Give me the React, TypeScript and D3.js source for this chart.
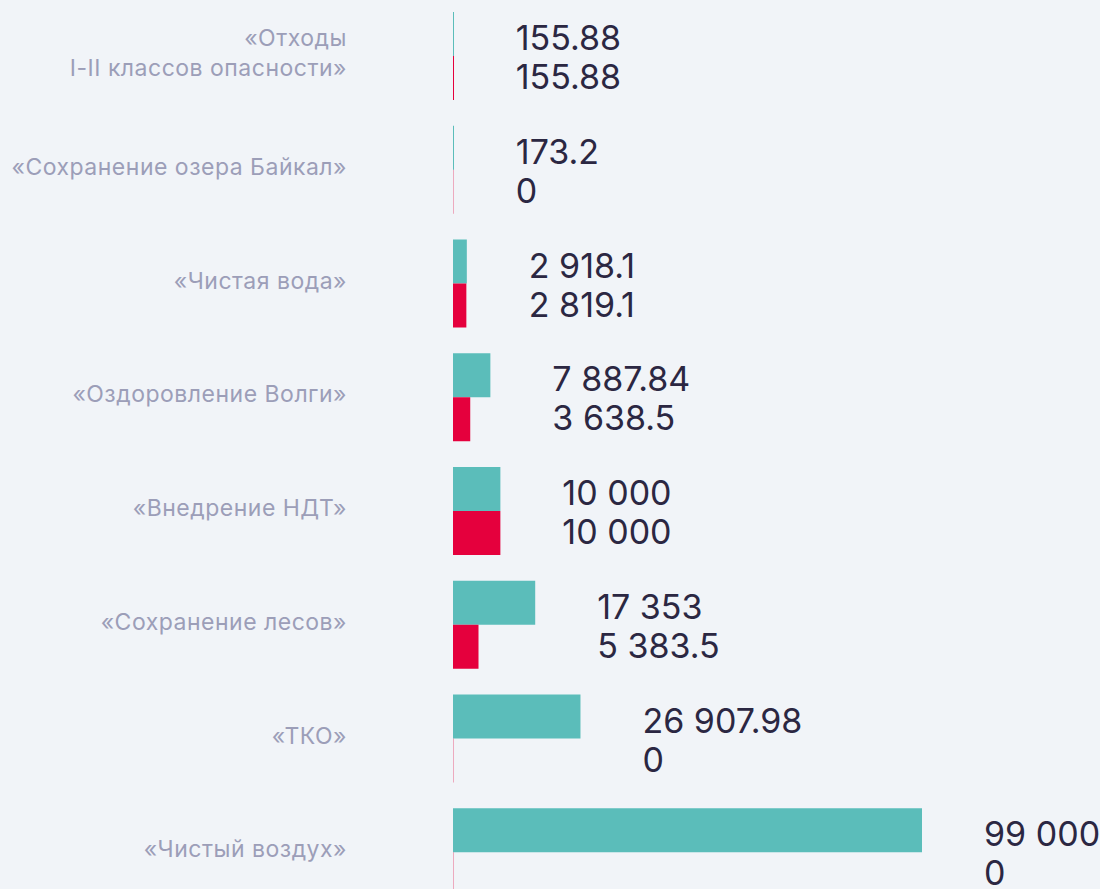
import React, { useEffect, useRef } from 'react';
import * as d3 from 'd3';

const categories: string[] = [
    '«Отходы\nI-II классов опасности»',
    '«Сохранение озера Байкал»',
    '«Чистая вода»',
    '«Оздоровление Волги»',
    '«Внедрение НДТ»',
    '«Сохранение лесов»',
    '«ТКО»',
    '«Чистый воздух»',
];

// teal bars (upper), red bars (lower)
const plannedValues: number[] = [155.88, 173.2, 2918.1, 7887.84, 10000, 17353, 26907.98, 99000];
const actualValues: number[] = [155.88, 0, 2819.1, 3638.5, 10000, 5383.5, 0, 0];

const plannedLabels: string[] = ['155.88', '173.2', '2 918.1', '7 887.84', '10 000', '17 353', '26 907.98', '99 000'];
const actualLabels: string[] = ['155.88', '0', '2 819.1', '3 638.5', '10 000', '5 383.5', '0', '0'];

const WIDTH = 1100;
const HEIGHT = 889;
const BG = '#f1f4f8';
const TEAL = '#5bbdba';
const RED = '#e5003d';
const TEXT_DARK = '#2b2742';
const TEXT_GRAY = '#9c9eb8';

const App: React.FC = () => {
    const svgRef = useRef<SVGSVGElement>(null);

    useEffect(() => {
        if (!svgRef.current) return;
        document.body.style.margin = '0';
        document.body.style.background = BG;

        const svg = d3.select(svgRef.current);
        svg.selectAll('*').remove();

        svg.append('rect')
            .attr('width', WIDTH)
            .attr('height', HEIGHT)
            .attr('fill', BG);

        const x0 = 453;
        const xScale = d3.scaleLinear()
            .domain([0, 99000])
            .range([x0, 922]);

        const step = 113.75;
        const gap = 25.75;
        const yScale = d3.scaleBand<number>()
            .domain(d3.range(categories.length))
            .range([12, 12 + step * categories.length - gap])
            .paddingInner(gap / step)
            .paddingOuter(0);

        const barH = yScale.bandwidth() / 2;

        const groups = svg.selectAll('g.cat')
            .data(categories)
            .join('g')
            .attr('class', 'cat')
            .attr('transform', (_d, i) => `translate(0, ${yScale(i)})`);

        // bars
        const drawBar = (vals: number[], color: string, offset: number) => {
            groups.append('rect')
                .attr('x', x0)
                .attr('y', offset)
                .attr('width', (_d, i) => Math.max(xScale(vals[i]) - x0, 1))
                .attr('height', barH)
                .attr('fill', color)
                .attr('fill-opacity', (_d, i) => (vals[i] === 0 ? 0.3 : 1));
        };
        drawBar(plannedValues, TEAL, 0);
        drawBar(actualValues, RED, barH);

        // category labels
        groups.append('text')
            .attr('text-anchor', 'end')
            .attr('font-family', 'Inter, "Noto Sans", sans-serif')
            .attr('font-size', 23)
            .attr('letter-spacing', 0.5)
            .attr('fill', TEXT_GRAY)
            .each(function (d) {
                const lines = d.split('\n');
                const t = d3.select(this);
                lines.forEach((line, li) => {
                    t.append('tspan')
                        .attr('x', 347)
                        .attr('y', 49 + (li - (lines.length - 1) / 2) * 30)
                        .text(line);
                });
            });

        // value labels
        groups.append('text')
            .attr('font-family', 'Inter, "Noto Sans", sans-serif')
            .attr('font-size', 34)
            .attr('fill', TEXT_DARK)
            .each(function (_d, i) {
                const t = d3.select(this);
                const lx = xScale(Math.max(plannedValues[i], actualValues[i])) + 62;
                t.append('tspan').attr('x', lx).attr('y', 38).text(plannedLabels[i]);
                t.append('tspan').attr('x', lx).attr('y', 77).text(actualLabels[i]);
            });
    }, []);

    return (
        <svg
            ref={svgRef}
            width={WIDTH}
            height={HEIGHT}
            style={{ position: 'absolute', left: 0, top: 0, display: 'block' }}
        ></svg>
    );
};

export default App;
